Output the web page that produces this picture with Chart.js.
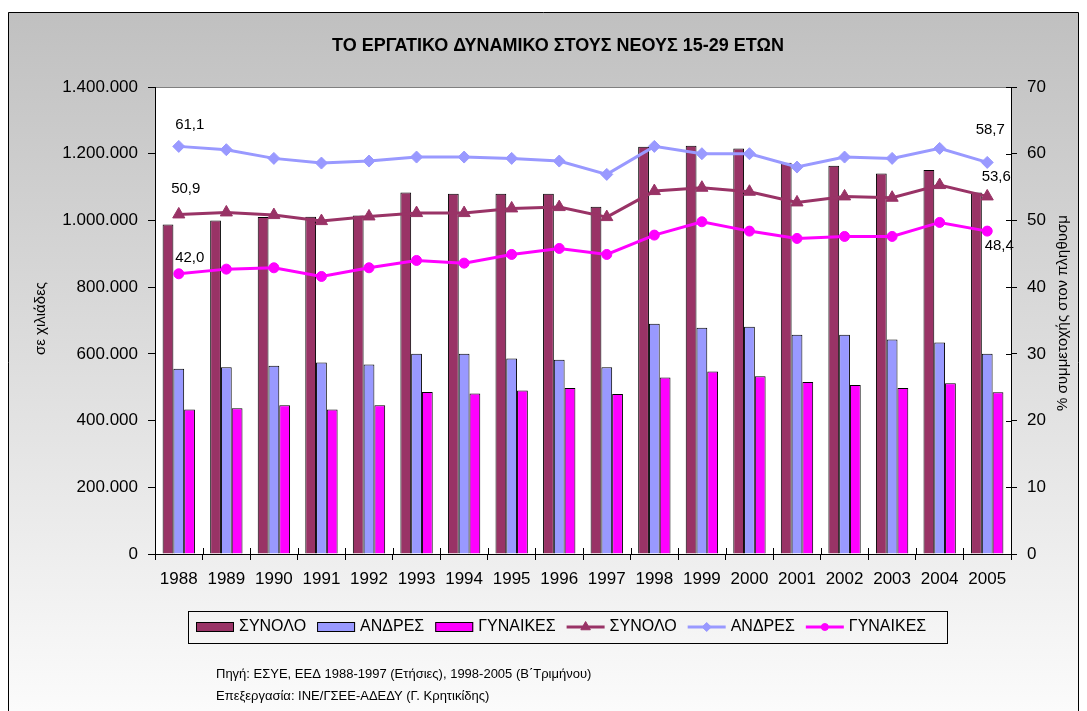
<!DOCTYPE html>
<html>
<head>
<meta charset="utf-8">
<script src="https://cdn.jsdelivr.net/npm/chart.js@4/dist/chart.umd.min.js"></script>
<style>
  body { margin: 0; background: #fff; }
  #graphique { display: block; }
</style>
</head>
<body>
<canvas id="graphique" width="1087" height="711"></canvas>
<script>
// Données
const annees = ['1988', '1989', '1990', '1991', '1992', '1993', '1994', '1995', '1996',
  '1997', '1998', '1999', '2000', '2001', '2002', '2003', '2004', '2005'];

// Effectifs (axe de gauche)
const effectifTotal = [988000, 1000000, 1010000, 1011000, 1015000, 1084000, 1080000, 1080000, 1080000,
  1041000, 1221000, 1224000, 1216000, 1173000, 1164000, 1141000, 1151000, 1084000];
const effectifHommes = [555000, 560000, 564000, 574000, 568000, 600000, 600000, 586000, 582000,
  560000, 690000, 678000, 681000, 657000, 657000, 643000, 634000, 600000];
const effectifFemmes = [433000, 437000, 446000, 433000, 446000, 486000, 481000, 490000, 498000,
  480000, 529000, 547000, 533000, 516000, 507000, 498000, 512000, 485000];

// Taux de participation en % (axe de droite)
const tauxTotal = [50.9, 51.2, 50.8, 49.9, 50.6, 51.1, 51.1, 51.8, 52.0,
  50.5, 54.4, 54.9, 54.3, 52.7, 53.6, 53.4, 55.3, 53.6];
const tauxHommes = [61.1, 60.6, 59.3, 58.6, 58.9, 59.5, 59.5, 59.3, 58.9,
  56.9, 61.1, 60.0, 60.0, 58.0, 59.5, 59.3, 60.8, 58.7];
const tauxFemmes = [42.0, 42.7, 42.9, 41.6, 42.9, 44.0, 43.6, 44.9, 45.8,
  44.9, 47.8, 49.8, 48.4, 47.3, 47.6, 47.6, 49.7, 48.4];

const titre = 'ΤΟ ΕΡΓΑΤΙΚΟ ΔΥΝΑΜΙΚΟ ΣΤΟΥΣ ΝΕΟΥΣ 15-29 ΕΤΩΝ';
const titreGauche = 'σε χιλιάδες';
const titreDroite = '% συμμετοχής στον πληθυσμ';
const sources = [
  'Πηγή: ΕΣΥΕ, ΕΕΔ 1988-1997 (Ετήσιες), 1998-2005 (Β΄Τριμήνου)',
  'Επεξεργασία: ΙΝΕ/ΓΣΕΕ-ΑΔΕΔΥ (Γ. Κρητικίδης)'
];

const BORDEAUX = '#993366';
const LAVANDE = '#9999ff';
const MAGENTA = '#ff00ff';
const POLICE = '"Liberation Sans", Arial, sans-serif';

// 1.400.000 style
function avecPoints(v) {
  return String(v).replace(/\B(?=(\d{3})+(?!\d))/g, '.');
}

function avecVirgule(v) {
  return v.toFixed(1).replace('.', ',');
}

// Fond gris dégradé + zone de tracé blanche
const fond = {
  id: 'fond',
  beforeDraw(chart) {
    const ctx = chart.ctx;
    const a = chart.chartArea;
    ctx.save();
    ctx.fillStyle = '#fff';
    ctx.fillRect(0, 0, chart.width, chart.height);
    const deg = ctx.createLinearGradient(0, 12, 0, chart.height);
    deg.addColorStop(0, '#c0c0c0');
    deg.addColorStop(1, '#fbfbfb');
    ctx.fillStyle = deg;
    ctx.fillRect(8, 12, 1070, chart.height);
    ctx.strokeStyle = '#000';
    ctx.lineWidth = 1;
    ctx.beginPath();
    ctx.moveTo(8.5, chart.height + 2);
    ctx.lineTo(8.5, 12.5);
    ctx.lineTo(1078.5, 12.5);
    ctx.lineTo(1078.5, chart.height + 2);
    ctx.stroke();
    ctx.fillStyle = '#fff';
    ctx.fillRect(a.left, a.top, a.right - a.left, a.bottom - a.top);
    ctx.strokeStyle = '#808080';
    ctx.beginPath();
    ctx.moveTo(a.left, a.top + 0.5);
    ctx.lineTo(a.right, a.top + 0.5);
    ctx.stroke();
    ctx.restore();
  }
};

// Petits traits de graduation côté intérieur (axe X et axe de droite)
const graduations = {
  id: 'graduations',
  afterDatasetsDraw(chart) {
    const ctx = chart.ctx;
    const a = chart.chartArea;
    const sx = chart.scales.x;
    const sy = chart.scales.y1;
    ctx.save();
    ctx.strokeStyle = '#000';
    ctx.lineWidth = 1;
    ctx.beginPath();
    for (let i = 0; i <= annees.length; i++) {
      const x = Math.round(sx.getPixelForValue(i - 0.5)) + 0.5;
      ctx.moveTo(x, a.bottom - 6);
      ctx.lineTo(x, a.bottom);
    }
    sy.ticks.forEach(t => {
      const y = Math.round(sy.getPixelForValue(t.value)) + 0.5;
      ctx.moveTo(a.right - 5, y);
      ctx.lineTo(a.right, y);
    });
    ctx.stroke();
    ctx.restore();
  }
};

// Valeurs écrites aux extrémités des courbes (premier et dernier point)
const decalages = {
  3: [[7, -26], [9, -20]],
  4: [[11, -22], [3, -33]],
  5: [[11, -16], [12, 15]]
};
const etiquettes = {
  id: 'etiquettes',
  afterDatasetsDraw(chart) {
    const ctx = chart.ctx;
    ctx.save();
    ctx.font = '15px ' + POLICE;
    ctx.fillStyle = '#000';
    ctx.textAlign = 'center';
    ctx.textBaseline = 'middle';
    Object.keys(decalages).forEach(i => {
      const meta = chart.getDatasetMeta(Number(i));
      const donnees = chart.data.datasets[i].data;
      [0, donnees.length - 1].forEach((idx, k) => {
        const p = meta.data[idx];
        const [dx, dy] = decalages[i][k];
        ctx.fillText(avecVirgule(donnees[idx]), p.x + dx, p.y + dy);
      });
    });
    ctx.restore();
  }
};

// Titre, titres d'axes, légende et sources
const textes = {
  id: 'textes',
  afterDraw(chart) {
    const ctx = chart.ctx;
    const a = chart.chartArea;
    ctx.save();
    ctx.fillStyle = '#000';
    ctx.textBaseline = 'middle';

    ctx.font = 'bold 18px ' + POLICE;
    ctx.textAlign = 'center';
    ctx.fillText(titre, 558, 46);

    ctx.font = '15px ' + POLICE;
    ctx.save();
    ctx.translate(41, (a.top + a.bottom) / 2 - 2);
    ctx.rotate(-Math.PI / 2);
    ctx.fillText(titreGauche, 0, 0);
    ctx.restore();
    ctx.save();
    ctx.translate(1063, 313);
    ctx.rotate(-Math.PI / 2);
    ctx.fillText(titreDroite, 0, 0);
    ctx.restore();

    // légende
    ctx.strokeStyle = '#000';
    ctx.lineWidth = 1;
    ctx.strokeRect(188.5, 611.5, 759, 32);
    ctx.font = '16px ' + POLICE;
    ctx.textAlign = 'left';
    let x = 196;
    const yL = 627;
    chart.data.datasets.forEach(ds => {
      if (ds.type === 'line') {
        ctx.strokeStyle = ds.borderColor;
        ctx.lineWidth = 3;
        ctx.beginPath();
        ctx.moveTo(x, yL);
        ctx.lineTo(x + 38, yL);
        ctx.stroke();
        ctx.fillStyle = ds.borderColor;
        ctx.lineWidth = 1;
        Chart.helpers.drawPoint(ctx, {
          pointStyle: ds.pointStyle, radius: ds.pointRadius - 1.5, borderWidth: 1
        }, x + 19, yL);
      } else {
        ctx.fillStyle = ds.backgroundColor;
        ctx.fillRect(x, yL - 5, 38, 10);
        ctx.strokeStyle = '#000';
        ctx.lineWidth = 1;
        ctx.strokeRect(x + 0.5, yL - 4.5, 37, 9);
      }
      ctx.fillStyle = '#000';
      ctx.fillText(ds.label, x + 43, yL);
      x += 43 + ctx.measureText(ds.label).width + 11;
    });

    ctx.font = '13px ' + POLICE;
    sources.forEach((s, i) => ctx.fillText(s, 216, 674 + i * 22));
    ctx.restore();
  }
};

const jeux = [
  { type: 'bar', label: 'ΣΥΝΟΛΟ', data: effectifTotal, backgroundColor: BORDEAUX, yAxisID: 'y', order: 2 },
  { type: 'bar', label: 'ΑΝΔΡΕΣ', data: effectifHommes, backgroundColor: LAVANDE, yAxisID: 'y', order: 2 },
  { type: 'bar', label: 'ΓΥΝΑΙΚΕΣ', data: effectifFemmes, backgroundColor: MAGENTA, yAxisID: 'y', order: 2 },
  { type: 'line', label: 'ΣΥΝΟΛΟ', data: tauxTotal, borderColor: BORDEAUX, backgroundColor: BORDEAUX,
    pointStyle: 'triangle', pointRadius: 7, yAxisID: 'y1', order: 1 },
  { type: 'line', label: 'ΑΝΔΡΕΣ', data: tauxHommes, borderColor: LAVANDE, backgroundColor: LAVANDE,
    pointStyle: 'rectRot', pointRadius: 6, yAxisID: 'y1', order: 1 },
  { type: 'line', label: 'ΓΥΝΑΙΚΕΣ', data: tauxFemmes, borderColor: MAGENTA, backgroundColor: MAGENTA,
    pointStyle: 'circle', pointRadius: 5, yAxisID: 'y1', order: 1 }
];
jeux.forEach(ds => {
  if (ds.type === 'bar') {
    ds.borderColor = '#000';
    ds.borderWidth = 1;
    ds.categoryPercentage = 0.68;
    ds.barPercentage = 1;
  } else {
    ds.borderWidth = 3;
    ds.pointBorderWidth = 1;
    ds.tension = 0;
  }
});

const policeAxe = { family: POLICE, size: 17 };

new Chart(document.getElementById('graphique'), {
  type: 'bar',
  data: { labels: annees, datasets: jeux },
  options: {
    responsive: false,
    animation: false,
    devicePixelRatio: 1,
    layout: { padding: { top: 87, left: 0, right: 0, bottom: 117 } },
    plugins: { legend: { display: false }, tooltip: { enabled: false } },
    scales: {
      x: {
        grid: { offset: true, drawOnChartArea: false, color: '#000', tickLength: 6 },
        border: { color: '#000', width: 1 },
        ticks: { color: '#000', font: policeAxe, padding: 9, maxRotation: 0, autoSkip: false },
        afterFit(s) { s.height = 40; }
      },
      y: {
        position: 'left',
        min: 0, max: 1400000,
        grid: { drawOnChartArea: false, color: '#000', tickLength: 7 },
        border: { color: '#000', width: 1 },
        ticks: { stepSize: 200000, color: '#000', font: policeAxe, padding: 10,
          callback: v => avecPoints(v) },
        afterFit(s) { s.width = 155; }
      },
      y1: {
        position: 'right',
        min: 0, max: 70,
        grid: { drawOnChartArea: false, color: '#000', tickLength: 6 },
        border: { color: '#000', width: 1 },
        ticks: { stepSize: 10, color: '#000', font: policeAxe, padding: 10 },
        afterFit(s) { s.width = 76; }
      }
    }
  },
  plugins: [fond, graduations, etiquettes, textes]
});
</script>
</body>
</html>
